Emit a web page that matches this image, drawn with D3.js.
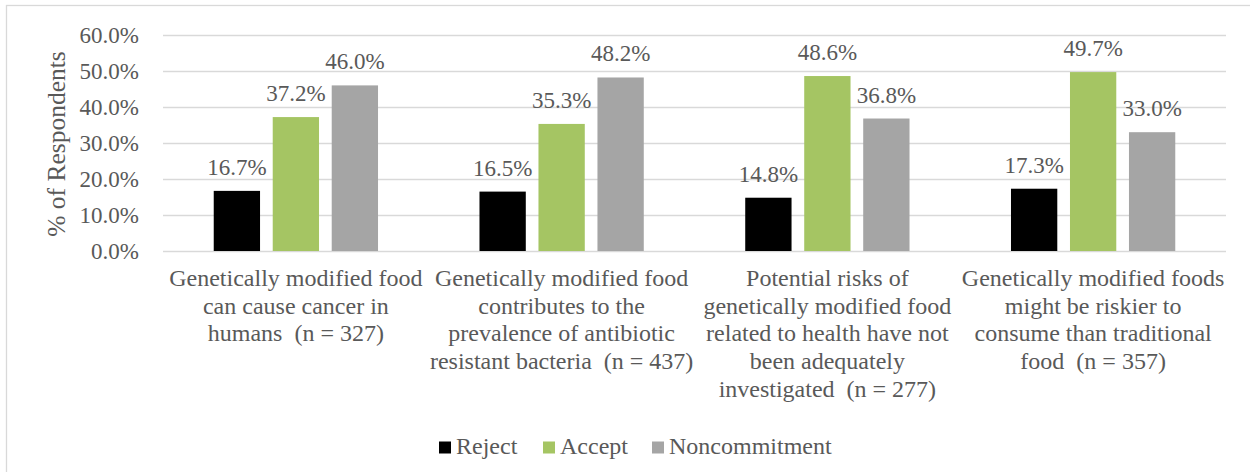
<!DOCTYPE html>
<html>
<head>
<meta charset="utf-8">
<script src="https://cdn.jsdelivr.net/npm/d3@7"></script>
<style>
  html, body { margin: 0; padding: 0; background: #fff; }
  svg { display: block; }
</style>
</head>
<body>
<svg id="chart" width="1250" height="472"></svg>
<script>
// Survey statements (line breaks mark label wrapping)
const categories = [
  "Genetically modified food\ncan cause cancer in\nhumans  (n = 327)",
  "Genetically modified food\ncontributes to the\nprevalence of antibiotic\nresistant bacteria  (n = 437)",
  "Potential risks of\ngenetically modified food\nrelated to health have not\nbeen adequately\ninvestigated  (n = 277)",
  "Genetically modified foods\nmight be riskier to\nconsume than traditional\nfood  (n = 357)"
];
const seriesNames = ["Reject", "Accept", "Noncommitment"];
const seriesColors = ["#000000", "#a5c563", "#a5a5a5"];
const reject = [16.7, 16.5, 14.8, 17.3];
const accept = [37.2, 35.3, 48.6, 49.7];
const noncommitment = [46.0, 48.2, 36.8, 33.0];
const yTicks = [0, 10, 20, 30, 40, 50, 60];

const seriesValues = [reject, accept, noncommitment];

const FONT = "'Liberation Serif', 'Times New Roman', Times, serif";
const TEXT = "#595959";

const svg = d3.select("#chart").style("font-family", FONT);
const plot = { left: 163, right: 1226, top: 35, bottom: 251 };

function styleText(sel, size) {
  return sel.style("font-family", FONT).style("font-size", size + "px").style("fill", TEXT);
}

// outer chart frame
svg.append("rect")
  .attr("x", 6.5).attr("y", 5.5)
  .attr("width", 1260).attr("height", 480)
  .attr("fill", "none").attr("stroke", "#d9d9d9").attr("stroke-width", 1.3);

const x0 = d3.scaleBand().domain(d3.range(categories.length))
  .range([plot.left, plot.right]).padding(0);
const x1 = d3.scaleBand().domain(d3.range(seriesNames.length))
  .range([0, x0.bandwidth()]).paddingInner(0.215).paddingOuter(0.86);
const y = d3.scaleLinear().domain([0, 60]).range([plot.bottom, plot.top]);

// gridlines and percentage ticks
const yAxis = d3.axisLeft(y).tickValues(yTicks)
  .tickSize(-(plot.right - plot.left)).tickPadding(24)
  .tickFormat(d => d.toFixed(1) + "%");
const gy = svg.append("g").attr("transform", `translate(${plot.left},0)`).call(yAxis);
gy.attr("font-family", null).attr("font-size", null);
gy.select(".domain").remove();
gy.selectAll(".tick line").attr("stroke", "#d9d9d9").attr("stroke-width", 1.3);
styleText(gy.selectAll(".tick text"), 23);

// bars with value labels
categories.forEach((c, ci) => {
  const g = svg.append("g").attr("transform", `translate(${x0(ci)},0)`);
  seriesValues.forEach((vals, si) => {
    const v = vals[ci];
    g.append("rect")
      .attr("x", x1(si)).attr("width", x1.bandwidth())
      .attr("y", y(v)).attr("height", y(0) - y(v))
      .attr("fill", seriesColors[si]);
    styleText(g.append("text"), 23)
      .attr("x", x1(si) + x1.bandwidth() / 2)
      .attr("y", y(v) - 16)
      .attr("text-anchor", "middle")
      .text(v.toFixed(1) + "%");
  });
});

// category labels
categories.forEach((c, ci) => {
  const t = styleText(svg.append("text"), 24)
    .attr("text-anchor", "middle")
    .style("white-space", "pre");
  c.split("\n").forEach((line, li) => {
    t.append("tspan")
      .attr("x", x0(ci) + x0.bandwidth() / 2)
      .attr("y", 286 + li * 27.7)
      .style("white-space", "pre")
      .text(line);
  });
});

// y-axis title
styleText(svg.append("text"), 25.5)
  .attr("transform", "translate(65,144) rotate(-90)")
  .attr("text-anchor", "middle")
  .text("% of Respondents");

// legend
const legendX = [439, 543, 652];
seriesNames.forEach((name, i) => {
  svg.append("rect")
    .attr("x", legendX[i]).attr("y", 441.5)
    .attr("width", 12).attr("height", 12)
    .attr("fill", seriesColors[i]);
  styleText(svg.append("text"), 24)
    .attr("x", legendX[i] + 17).attr("y", 454)
    .text(name);
});
</script>
</body>
</html>
